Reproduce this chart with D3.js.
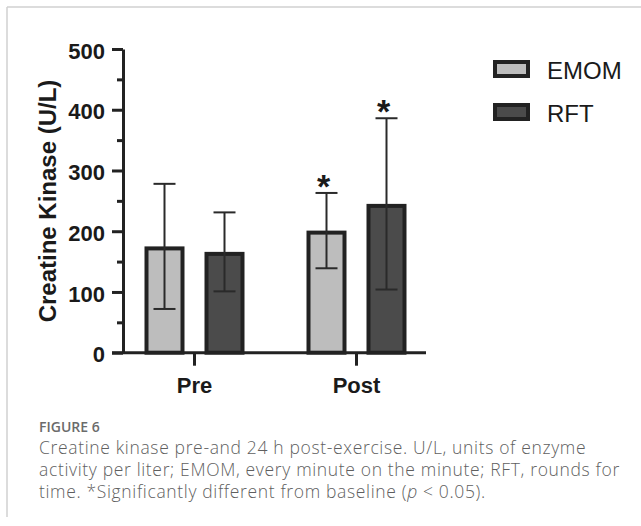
<!DOCTYPE html>
<html>
<head>
<meta charset="utf-8">
<script src="https://cdn.jsdelivr.net/npm/d3@7"></script>
<style>
  html, body { margin: 0; padding: 0; background: #fff; }
  svg { display: block; }
</style>
</head>
<body>
<div id="chart"></div>
<script>
// Data
const groups = ["Pre", "Post"];
const series = ["EMOM", "RFT"];
const means = { EMOM: [175, 201], RFT: [166, 245] };
const sds = { EMOM: [103, 62], RFT: [65, 141] };
const significant = { EMOM: [false, true], RFT: [false, true] };
const yTicks = [0, 100, 200, 300, 400, 500];
const yMinorTicks = [50, 150, 250, 350, 450];
const colors = { EMOM: "#bdbdbd", RFT: "#4b4b4b" };
const captionTitle = "FIGURE 6";
const captionLines = [
    "Creatine kinase pre-and 24 h post-exercise. U/L, units of enzyme",
    "activity per liter; EMOM, every minute on the minute; RFT, rounds for",
    "time. *Significantly different from baseline ("
];

const W = 641, H = 526;
const ink = "#222";
const fontChart = "Arial, 'Liberation Sans', sans-serif";
const fontCaption = "'Open Sans', Lato, sans-serif";

const svg = d3.select("#chart")
    .append("svg")
    .attr("width", W)
    .attr("height", H);

// Frame lines (top and left)
svg.append("line")
    .attr("x1", 7).attr("y1", 7).attr("x2", W).attr("y2", 7)
    .attr("stroke", "#d0d0d0").attr("stroke-width", 1.5);
svg.append("line")
    .attr("x1", 7).attr("y1", 7).attr("x2", 7).attr("y2", 517)
    .attr("stroke", "#d0d0d0").attr("stroke-width", 1.5);

// Scales
const y = d3.scaleLinear().domain([0, 500]).range([352.7, 49]);
const x0 = d3.scaleBand().domain(groups).range([113.5, 437.5]);
const x1 = d3.scalePoint().domain(series).range([-30, 30]);
const barW = 40;
const sw = 4; // bar border, drawn inside the bar

const axisX = 123;

// Y axis: major ticks
const yAxis = svg.append("g")
    .attr("transform", `translate(${axisX},0)`)
    .call(d3.axisLeft(y).tickValues(yTicks).tickSize(11).tickSizeOuter(0).tickPadding(7));
yAxis.select(".domain").attr("stroke", ink).attr("stroke-width", 3);
yAxis.selectAll(".tick line").attr("stroke", ink).attr("stroke-width", 3);
yAxis.selectAll(".tick text")
    .attr("font-family", fontChart)
    .attr("font-weight", "bold")
    .attr("font-size", 22)
    .attr("fill", "#1a1a1a")
    .attr("dy", "0.42em");

// Y axis: minor ticks
const yMinor = svg.append("g")
    .attr("transform", `translate(${axisX},0)`)
    .call(d3.axisLeft(y).tickValues(yMinorTicks).tickSize(6).tickFormat(""));
yMinor.select(".domain").remove();
yMinor.selectAll(".tick line").attr("stroke", ink).attr("stroke-width", 3);

// Y title
svg.append("text")
    .attr("transform", "translate(56,201) rotate(-90)")
    .attr("text-anchor", "middle")
    .attr("font-family", fontChart)
    .attr("font-weight", "bold")
    .attr("font-size", 24)
    .attr("fill", "#1a1a1a")
    .text("Creatine Kinase (U/L)");

// Bars
const rows = [];
groups.forEach((g, gi) => {
    series.forEach(s => {
        rows.push({ group: g, series: s, mean: means[s][gi], sd: sds[s][gi], sig: significant[s][gi] });
    });
});

const cx = d => x0(d.group) + x0.bandwidth() / 2 + x1(d.series);

svg.append("g").selectAll("rect")
    .data(rows)
    .join("rect")
    .attr("x", d => cx(d) - barW / 2 + sw / 2)
    .attr("y", d => y(d.mean) + sw / 2)
    .attr("width", barW - sw)
    .attr("height", d => y(0) - y(d.mean) - sw / 2)
    .attr("fill", d => colors[d.series])
    .attr("stroke", ink)
    .attr("stroke-width", sw);

// Error bars
const eb = svg.append("g")
    .attr("stroke", "#2a2a2a")
    .attr("stroke-width", 2);
eb.selectAll("line.v")
    .data(rows)
    .join("line")
    .attr("class", "v")
    .attr("x1", cx).attr("x2", cx)
    .attr("y1", d => y(d.mean + d.sd))
    .attr("y2", d => y(d.mean - d.sd));
eb.selectAll("line.top")
    .data(rows)
    .join("line")
    .attr("class", "top")
    .attr("x1", d => cx(d) - 11).attr("x2", d => cx(d) + 11)
    .attr("y1", d => y(d.mean + d.sd)).attr("y2", d => y(d.mean + d.sd));
eb.selectAll("line.bot")
    .data(rows)
    .join("line")
    .attr("class", "bot")
    .attr("x1", d => cx(d) - 11).attr("x2", d => cx(d) + 11)
    .attr("y1", d => y(d.mean - d.sd)).attr("y2", d => y(d.mean - d.sd));

// Significance stars
svg.append("g").selectAll("text")
    .data(rows.filter(d => d.sig))
    .join("text")
    .attr("x", d => cx(d) - 3)
    .attr("y", d => y(d.mean + d.sd) + 5)
    .attr("text-anchor", "middle")
    .attr("font-family", fontChart)
    .attr("font-weight", "bold")
    .attr("font-size", 34)
    .attr("fill", "#1a1a1a")
    .text("*");

// X axis
svg.append("line")
    .attr("x1", 112).attr("x2", 426)
    .attr("y1", y(0)).attr("y2", y(0))
    .attr("stroke", ink).attr("stroke-width", 3);
const xAxis = svg.append("g")
    .attr("transform", `translate(0,${y(0)})`)
    .call(d3.axisBottom(x0).tickSize(13).tickSizeOuter(0));
xAxis.select(".domain").remove();
xAxis.selectAll(".tick line").attr("stroke", ink).attr("stroke-width", 3);
xAxis.selectAll(".tick text")
    .attr("y", 40)
    .attr("dy", 0)
    .attr("font-family", fontChart)
    .attr("font-weight", "bold")
    .attr("font-size", 22)
    .attr("fill", "#1a1a1a");

// Legend
const legend = svg.append("g").selectAll("g")
    .data(series)
    .join("g")
    .attr("transform", (d, i) => `translate(493,${60 + i * 43})`);
legend.append("rect")
    .attr("x", 2).attr("y", 2)
    .attr("width", 33).attr("height", 14)
    .attr("fill", d => colors[d])
    .attr("stroke", ink)
    .attr("stroke-width", 4);
legend.append("text")
    .attr("x", 54).attr("y", 18.5)
    .attr("font-family", fontChart)
    .attr("font-size", 24)
    .attr("fill", "#1a1a1a")
    .text(d => d);

// Caption
svg.append("text")
    .attr("x", 39).attr("y", 432)
    .attr("font-family", fontCaption)
    .attr("font-weight", 600)
    .attr("font-size", 14)
    .attr("fill", "#6b6b6b")
    .text(captionTitle);

const cap = svg.append("g")
    .attr("font-family", fontCaption)
    .attr("font-weight", 300)
    .attr("font-size", 17.5)
    .attr("letter-spacing", 0.65)
    .attr("fill", "#5f5f5f");
captionLines.forEach((t, i) => {
    const el = cap.append("text")
        .attr("x", 39)
        .attr("y", 454 + i * 22)
        .text(t);
    if (i === captionLines.length - 1) {
        el.append("tspan").attr("font-style", "italic").text("p");
        el.append("tspan").text(" < 0.05).");
    }
});
</script>
</body>
</html>
